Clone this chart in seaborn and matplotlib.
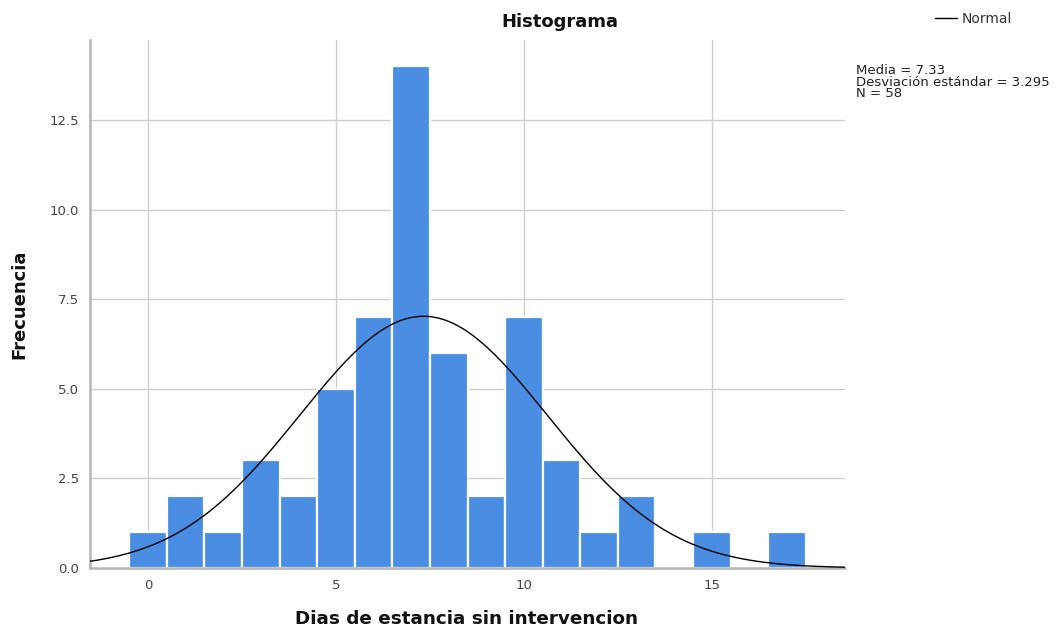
import numpy as np
import pandas as pd
import matplotlib
matplotlib.use("Agg")
import matplotlib.pyplot as plt
import seaborn as sns

# Days of stay without intervention and how many patients had each value
days = [0, 1, 2, 3, 4, 5, 6, 7, 8, 9, 10, 11, 12, 13, 15, 17]
counts = [1, 2, 1, 3, 2, 5, 7, 14, 6, 2, 7, 3, 1, 2, 1, 1]

mean_value = 7.33
std_value = 3.295
n_total = 58

x_ticks = [0, 5, 10, 15]
y_ticks = [0.0, 2.5, 5.0, 7.5, 10.0, 12.5]

sns.set_theme(style="white")
plt.rcParams["font.family"] = ["DejaVu Sans"]

df = pd.DataFrame({"dias": days, "n": counts})

fig = plt.figure(figsize=(10.63, 6.29), dpi=100)
ax = fig.add_axes([90 / 1063, 1 - 568 / 629, (845 - 90) / 1063, (568 - 40) / 629])

grid_color = "#cfcfcf"
for xv in x_ticks:
    ax.axvline(xv, color=grid_color, lw=1.0, zorder=0)
for yv in y_ticks[1:]:
    ax.axhline(yv, color=grid_color, lw=1.0, zorder=0)

sns.histplot(data=df, x="dias", weights="n", discrete=True, ax=ax,
             color="#4a8ee4", alpha=1.0, edgecolor="white", linewidth=1.6,
             zorder=2)

# Fitted normal curve scaled to counts (bin width = 1)
xs = np.linspace(-1.6, 18.6, 400)
ys = n_total * 1.0 / (std_value * np.sqrt(2 * np.pi)) * np.exp(-0.5 * ((xs - mean_value) / std_value) ** 2)
sns.lineplot(x=xs, y=ys, ax=ax, color="black", lw=1.0, zorder=3, label="Normal", legend=False)

ax.set_xlim(-1.54, 18.54)
ax.set_ylim(0, 14.73)
ax.set_xticks(x_ticks)
ax.set_xticklabels([str(v) for v in x_ticks])
ax.set_yticks(y_ticks)
ax.set_yticklabels([f"{v:.1f}" for v in y_ticks])
ax.tick_params(axis="both", labelsize=9.5, labelcolor="#444444", length=0, pad=8)

for side in ["top", "right"]:
    ax.spines[side].set_visible(False)
for side in ["left", "bottom"]:
    ax.spines[side].set_color("#b5b5b5")
    ax.spines[side].set_linewidth(1.8)

ax.set_xlabel("Dias de estancia sin intervencion", fontsize=13.2, fontweight="bold",
              color="#111111")
ax.set_ylabel("Frecuencia", fontsize=13, fontweight="bold", color="#111111")
ax.xaxis.set_label_coords((467 - 90) / 755, -(610 - 568) / 528)
ax.yaxis.set_label_coords(-(90 - 28) / 755, (568 - 304) / 528)

fig.text(560 / 1063, 1 - 22 / 629, "Histograma", ha="center", va="center",
         fontsize=13, fontweight="bold", color="#111111")

# Legend entry and summary statistics on the right
leg = ax.legend(handles=ax.get_lines()[-1:], labels=["Normal"], loc="center left",
                bbox_to_anchor=(935 / 1063, 1 - 19 / 629), bbox_transform=fig.transFigure,
                frameon=False, fontsize=10, handlelength=1.6, handletextpad=0.3,
                labelcolor="#333333", borderaxespad=0, borderpad=0)

fig.text(856 / 1063, 1 - 64 / 629,
         f"Media = {mean_value}\nDesviación estándar = {std_value}\nN = {n_total}",
         ha="left", va="top", fontsize=9.5, color="#222222", linespacing=0.85)

fig.savefig("out.png", dpi=100)
